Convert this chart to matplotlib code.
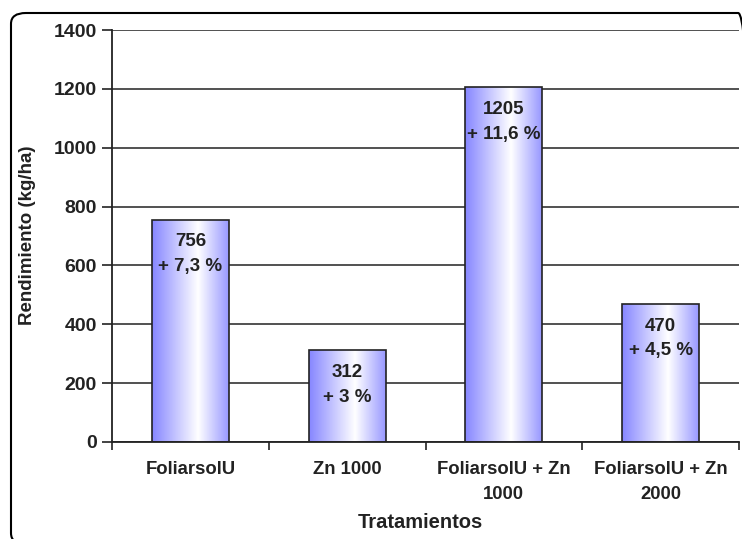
import matplotlib
matplotlib.use("Agg")
import matplotlib.pyplot as plt
import numpy as np
from matplotlib.patches import FancyBboxPatch
from matplotlib.colors import LinearSegmentedColormap

categories = ["FoliarsolU", "Zn 1000", "FoliarsolU + Zn\n1000", "FoliarsolU + Zn\n2000"]
values = [756, 312, 1205, 470]
pct_labels = ["+ 7,3 %", "+ 3 %", "+ 11,6 %", "+ 4,5 %"]
yticks = [0, 200, 400, 600, 800, 1000, 1200, 1400]

plt.rcParams['font.family'] = ['Liberation Sans', 'DejaVu Sans']

W, H = 742, 539
fig = plt.figure(figsize=(W/100, H/100), dpi=100)
ax = fig.add_axes([112/W, 1-442/H, (739-112)/W, (442-30)/H])

cmap = LinearSegmentedColormap.from_list(
    "g", [(0.0, "#8686ff"), (0.6, "#ffffff"), (1.0, "#9898ff")])
grad = np.linspace(0, 1, 256).reshape(1, -1)

x = np.arange(len(categories))
bars = ax.bar(x, values, width=0.49, facecolor="none", edgecolor="#222222",
              linewidth=1.2, zorder=3)
for b, v, p in zip(bars, values, pct_labels):
    x0 = b.get_x(); w = b.get_width()
    im = ax.imshow(grad, cmap=cmap, aspect="auto",
                   extent=[x0, x0 + w, 0, v], zorder=2.5, interpolation="bicubic")
    im.set_clip_path(b)
    ax.annotate(f"{v}\n{p}", xy=(x0 + w/2, v), xytext=(0, -10),
                textcoords="offset points", ha="center", va="top",
                fontsize=13.5, fontweight="bold", color="#222222",
                linespacing=1.6, zorder=5)

ax.set_xlim(-0.5, len(categories) - 0.5)
ax.set_ylim(0, 1400)
ax.set_yticks(yticks)
ax.set_yticklabels([str(t) for t in yticks], fontsize=14, fontweight="bold", color="#222222")
ax.yaxis.grid(True, color="#222222", linewidth=1.1, zorder=0)
ax.set_axisbelow(True)

ax.set_xticks(x)
ax.set_xticklabels(categories, fontsize=13.3, fontweight="bold", color="#222222",
                   linespacing=1.55)
ax.tick_params(axis="x", which="major", length=0, pad=14)
ax.set_xticks(np.arange(-0.5, len(categories), 1.0), minor=True)
ax.tick_params(axis="x", which="minor", length=6, width=1.2, direction="out", color="#222222")
ax.tick_params(axis="y", length=7, width=1.2, direction="out", color="#222222", pad=4)

for s in ["top", "right"]:
    ax.spines[s].set_visible(False)
for s in ["left", "bottom"]:
    ax.spines[s].set_linewidth(1.3)
    ax.spines[s].set_color("#222222")

fig.text(27/W, 1-235/H, "Rendimiento (kg/ha)", rotation=90, ha="center", va="center",
         fontsize=13.5, fontweight="bold", color="#222222")
fig.text(420/W, 1-522/H, "Tratamientos", ha="center", va="center",
         fontsize=14.5, fontweight="bold", color="#222222")

border = FancyBboxPatch((11/W, 1-544/H), (753-11)/W, (544-13)/H,
                        boxstyle="round,pad=0,rounding_size=0.02",
                        transform=fig.transFigure, facecolor="none",
                        edgecolor="black", linewidth=1.5, clip_on=False)
fig.patches.append(border)

fig.savefig("out.png", dpi=100)
